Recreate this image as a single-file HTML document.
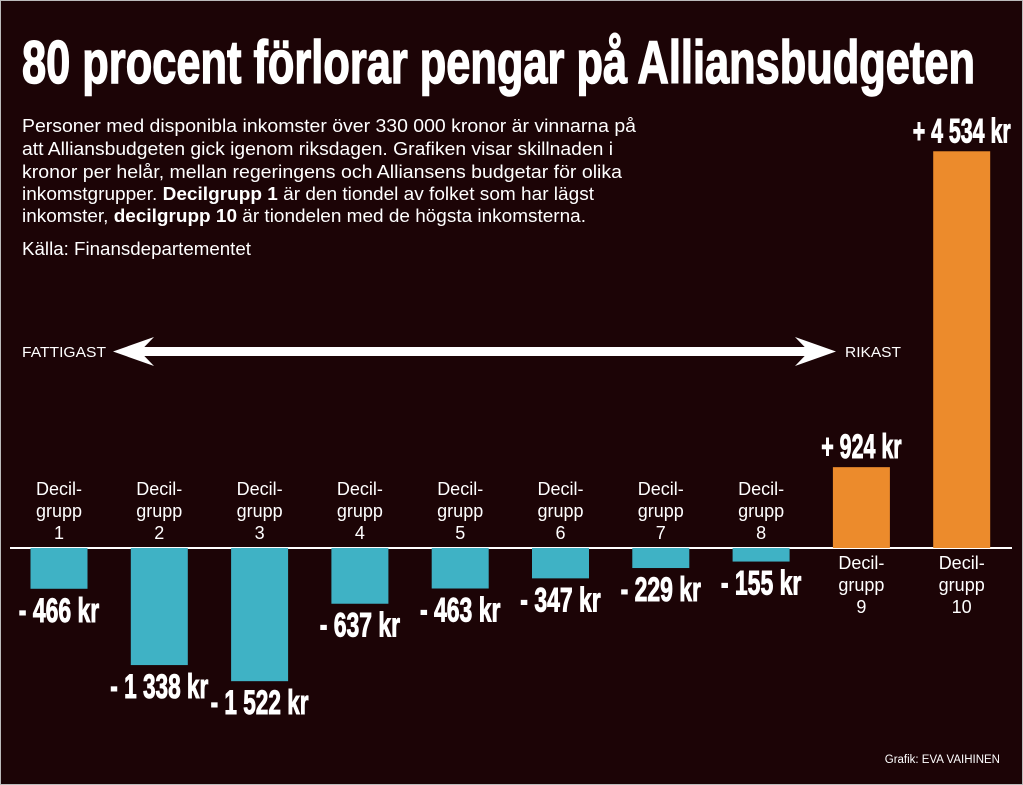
<!DOCTYPE html>
<html><head><meta charset="utf-8"><style>
html,body{margin:0;padding:0;background:#1c0406;}
svg{display:block;}
text{fill:#fff;font-family:"Liberation Sans",sans-serif;}
.cond{font-family:"Liberation Sans Narrow","Liberation Sans",sans-serif;font-weight:bold;}
</style></head><body>
<svg id="chart" width="1023" height="785" viewBox="0 0 1023 785">
<rect x="0" y="0" width="1023" height="785" fill="#1c0406" stroke="#bbb" stroke-width="2"/>
<text class="cond" x="22" y="83" font-size="60" stroke="#fff" stroke-width="1.5" textLength="953" lengthAdjust="spacingAndGlyphs">80 procent förlorar pengar på Alliansbudgeten</text>
<g font-size="18.5">
<text x="22" y="132" textLength="614" lengthAdjust="spacingAndGlyphs">Personer med disponibla inkomster över 330 000 kronor är vinnarna på</text>
<text x="22" y="155" textLength="591" lengthAdjust="spacingAndGlyphs">att Alliansbudgeten gick igenom riksdagen. Grafiken visar skillnaden i</text>
<text x="22" y="178" textLength="600" lengthAdjust="spacingAndGlyphs">kronor per helår, mellan regeringens och Alliansens budgetar för olika</text>
<text x="22" y="200" textLength="572" lengthAdjust="spacingAndGlyphs">inkomstgrupper. <tspan font-weight="bold">Decilgrupp 1</tspan> är den tiondel av folket som har lägst</text>
<text x="22" y="222" textLength="564" lengthAdjust="spacingAndGlyphs">inkomster, <tspan font-weight="bold">decilgrupp 10</tspan> är tiondelen med de högsta inkomsterna.</text>
</g>
<text x="22" y="255" font-size="18" textLength="229" lengthAdjust="spacingAndGlyphs">Källa: Finansdepartementet</text>
<text x="22" y="357" font-size="15" textLength="84" lengthAdjust="spacingAndGlyphs">FATTIGAST</text>
<text x="845" y="357" font-size="15" textLength="56" lengthAdjust="spacingAndGlyphs">RIKAST</text>
<g fill="#fff">
<rect x="135" y="347" width="675" height="9"/>
<path d="M113,351.5 L154,337 L140,351.5 L154,366 Z"/>
<path d="M836,351.5 L795,337 L809,351.5 L795,366 Z"/>
</g>
<line x1="10" y1="548" x2="1012" y2="548" stroke="#fff" stroke-width="2"/>
<g id="bars"></g>
<text x="1000" y="763" font-size="11.5" text-anchor="end">Grafik: EVA VAIHINEN</text>
</svg>
<script>
const categories = ["1","2","3","4","5","6","7","8","9","10"];
const values = [-466,-1338,-1522,-637,-463,-347,-229,-155,924,4534];
const valueLabels = ["- 466 kr","- 1 338 kr","- 1 522 kr","- 637 kr","- 463 kr","- 347 kr","- 229 kr","- 155 kr","+ 924 kr","+ 4 534 kr"];
const NS = "http://www.w3.org/2000/svg";
const baseY = 548, scale = 0.0875;
function xc(i){ return 59 + i*100.3; }
function y(v){ return baseY - v*scale; }
const g = document.getElementById("bars");
function mk(tag, attrs){ const e=document.createElementNS(NS,tag); for(const k in attrs) e.setAttribute(k,attrs[k]); g.appendChild(e); return e; }
categories.forEach((c,i)=>{
  const v = values[i], cx = xc(i), w = 57;
  const top = Math.min(y(v), baseY), h = Math.abs(y(v)-baseY);
  const r = mk("rect",{x:cx-w/2,y:top,width:w,height:h,fill:v<0?"#3fb2c5":"#ec8b2c"});
  
  
  const lbl = valueLabels[i];
  const ly = v<0 ? y(v)+33 : y(v)-9;
  const t = mk("text",{x:cx,y:ly,"text-anchor":"middle","font-size":"34",stroke:"#fff","stroke-width":"1",class:"cond",textLength:String(lbl.length*8.8+10),lengthAdjust:"spacingAndGlyphs"});
  t.textContent = lbl;
  
  
  const cy0 = v<0 ? 495 : 569;
  ["Decil-","grupp",c].forEach((s,j)=>{
    const tt = mk("text",{x:cx,y:cy0+j*22,"text-anchor":"middle","font-size":"18"});
    tt.textContent = s;
    
    
  });
});
</script>
</body></html>
